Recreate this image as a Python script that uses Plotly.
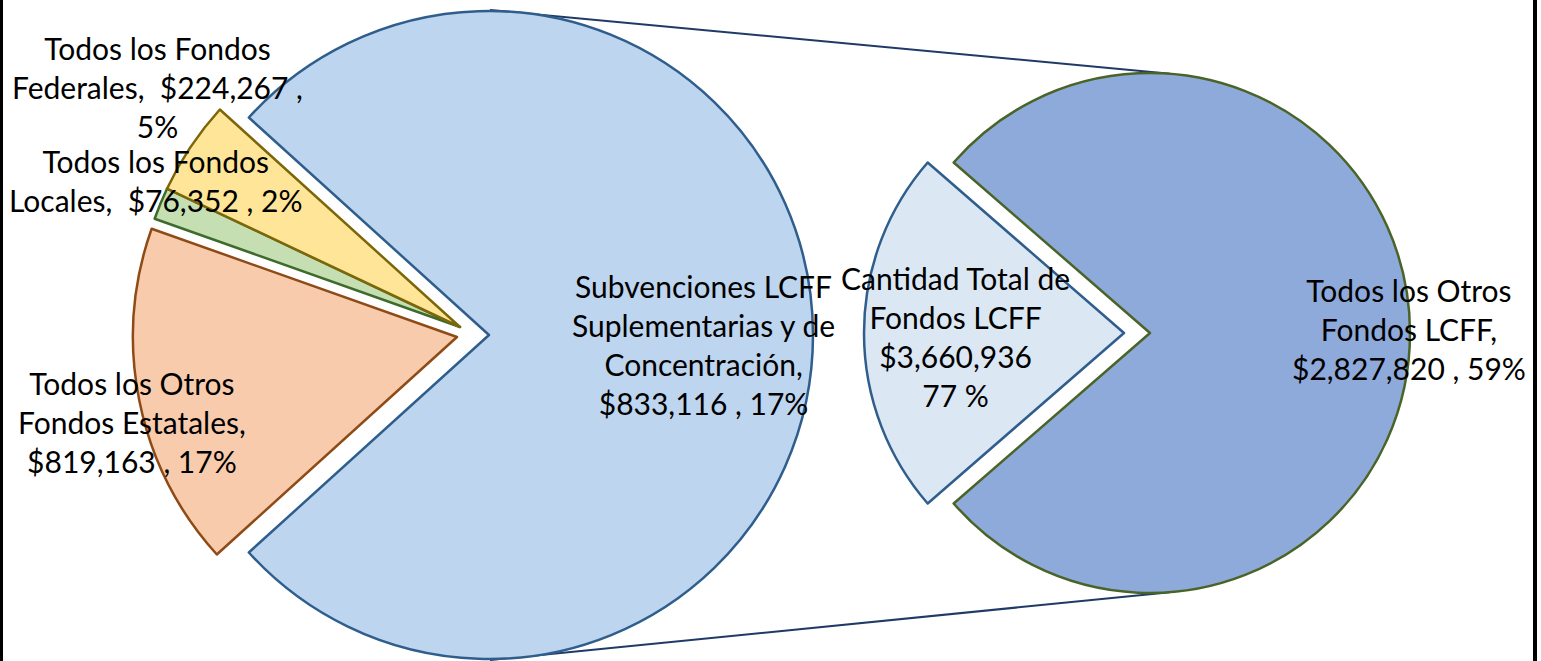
import math
import plotly.graph_objects as go

# ---------------- data ----------------
left_categories = [
    "Cantidad Total de Fondos LCFF",
    "Todos los Otros Fondos Estatales",
    "Todos los Fondos Locales",
    "Todos los Fondos Federales",
]
left_values = [3660936, 819163, 76352, 224267]
left_pct_labels = ["77 %", "17%", "2%", "5%"]

right_categories = [
    "Todos los Otros Fondos LCFF",
    "Subvenciones LCFF Suplementarias y de Concentración",
]
right_values = [2827820, 833116]
right_pct_labels = ["59%", "17%"]

# ---------------- styles ----------------
W, H = 1541, 661
FONT = "Lato, Carlito, Calibri, sans-serif"
FS = 30

left_fill = ["#BDD5EE", "#F8CBAD", "#C5DFB3", "#FFE598"]
left_line = ["#2F5E8C", "#8E4B16", "#3E6B2B", "#7D6608"]
right_fill = ["#8EAADB", "#DCE7F4"]
right_line = ["#4A6428", "#2F5E8C"]

# geometry (pixels)
L_CX, L_CY, L_R = 489, 335, 324
# explosion offsets of each left slice (px)
left_offsets = [(0, 0), (-32, 2), (-29, -8), (-29, -8)]
R_CX, R_CY, R_R = 1150, 333, 260
R_PULL = [0, 0.1]


def domain(cx, cy, hw, hh):
    return dict(
        x=[max(0.0, (cx - hw) / W), min(1.0, (cx + hw) / W)],
        y=[max(0.0, 1 - (cy + hh) / H), min(1.0, 1 - (cy - hh) / H)],
    )


fig = go.Figure()

l_total = sum(left_values)
l_rot = 90 - 180 * left_values[0] / l_total
for i, (dx, dy) in enumerate(left_offsets):
    fills = ["rgba(0,0,0,0)"] * len(left_values)
    lines = ["rgba(0,0,0,0)"] * len(left_values)
    widths = [0] * len(left_values)
    fills[i] = left_fill[i]
    lines[i] = left_line[i]
    widths[i] = 2.5
    fig.add_trace(go.Pie(
        labels=left_categories, values=left_values,
        sort=False, direction="clockwise", rotation=l_rot,
        marker=dict(colors=fills, line=dict(color=lines, width=widths)),
        textinfo="none", hoverinfo="label+value+percent",
        domain=domain(L_CX + dx, L_CY + dy, L_R, L_R),
        showlegend=False,
    ))

r_total = sum(right_values)
r_rot = 90 - 180 * right_values[0] / r_total
r_half = R_R * (1 + max(R_PULL))
fig.add_trace(go.Pie(
    labels=right_categories, values=right_values,
    sort=False, direction="clockwise", rotation=r_rot, pull=R_PULL,
    marker=dict(colors=right_fill, line=dict(color=right_line, width=2.5)),
    textinfo="none", hoverinfo="label+value+percent",
    domain=domain(R_CX, R_CY, r_half, r_half),
    showlegend=False,
))


def fmt(v):
    return "$" + f"{v:,}"


label_texts = [
    "Todos los Fondos<br>Federales,  " + fmt(left_values[3]) + " ,<br>" + left_pct_labels[3],
    "Todos los Fondos<br>Locales,  " + fmt(left_values[2]) + " , " + left_pct_labels[2],
    "Todos los Otros<br>Fondos Estatales,<br>" + fmt(left_values[1]) + " , " + left_pct_labels[1],
    "Subvenciones LCFF<br>Suplementarias y de<br>Concentración,<br>" + fmt(right_values[1]) + " , " + right_pct_labels[1],
    "Cantidad Total de<br>Fondos LCFF<br>" + fmt(left_values[0]) + "<br>" + left_pct_labels[0],
    "Todos los Otros<br>Fondos LCFF,<br>" + fmt(right_values[0]) + " , " + right_pct_labels[0],
]
label_pos = [(157, 87), (155, 180), (132, 422), (703, 344), (955, 336), (1409, 329)]

for t, (px, py) in zip(label_texts, label_pos):
    fig.add_annotation(
        text=t, x=px / W, y=1 - py / H, xref="paper", yref="paper",
        showarrow=False, xanchor="center", yanchor="middle", align="center",
        font=dict(family=FONT, size=FS, color="#000000"),
    )

# connector lines between the two pies
ang = math.radians(4.4)
top2 = (R_CX + R_R * math.sin(ang), R_CY - R_R * math.cos(ang))
bot2 = (R_CX + R_R * math.sin(ang), R_CY + R_R * math.cos(ang))
for (x0, y0), (x1, y1) in [((L_CX + 1, L_CY - L_R - 1), top2), ((L_CX + 1, L_CY + L_R + 1), bot2)]:
    fig.add_shape(type="line", xref="paper", yref="paper",
                  x0=x0 / W, y0=1 - y0 / H, x1=x1 / W, y1=1 - y1 / H,
                  line=dict(color="#1F3A66", width=2), layer="below")

# chart frame (left and right edges visible)
fig.add_shape(type="line", xref="paper", yref="paper", x0=1.5 / W, x1=1.5 / W, y0=-0.05, y1=1.05,
              line=dict(color="#000000", width=3))
fig.add_shape(type="line", xref="paper", yref="paper", x0=1535 / W, x1=1535 / W, y0=-0.05, y1=1.05,
              line=dict(color="#000000", width=4))

fig.update_layout(
    width=W, height=H,
    margin=dict(l=0, r=0, t=0, b=0, pad=0),
    paper_bgcolor="#FFFFFF", plot_bgcolor="#FFFFFF",
    showlegend=False,
)

fig.write_html(
    "out.html",
    config={"displayModeBar": False},
    post_script="document.body.style.margin='0';document.body.style.overflow='hidden';",
)
